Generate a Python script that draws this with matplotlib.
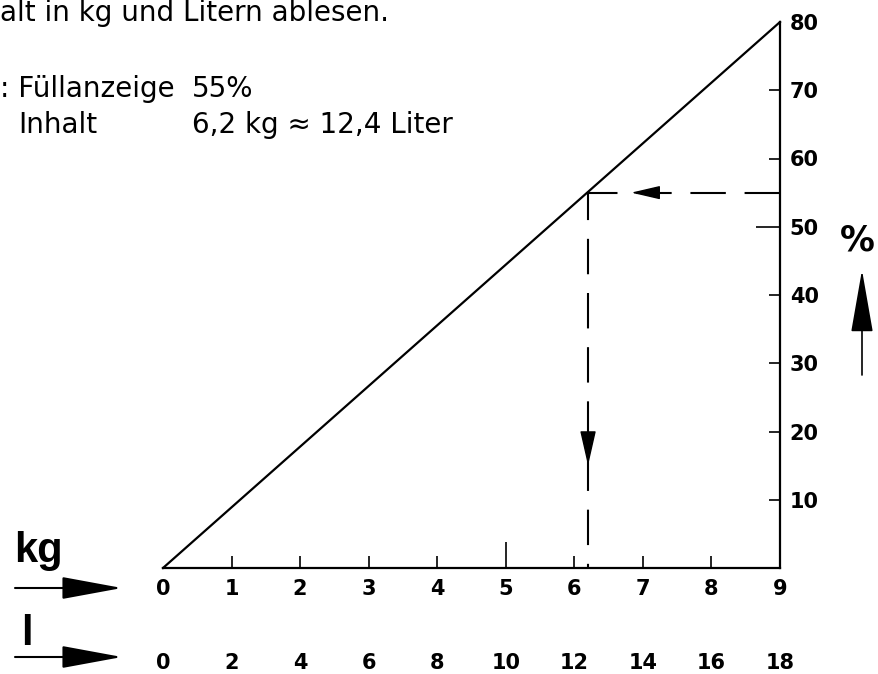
import matplotlib.pyplot as plt
from matplotlib.patches import FancyArrowPatch

# Füllstand-Diagramm: Füllanzeige (%) gegen Inhalt in kg bzw. Liter
kg_points = [0, 9]
pct_points = [0, 80]

kg_ticks = [0, 1, 2, 3, 4, 5, 6, 7, 8, 9]
liter_ticks = [0, 2, 4, 6, 8, 10, 12, 14, 16, 18]
pct_ticks = [10, 20, 30, 40, 50, 60, 70, 80]

# Ablesebeispiel
example_pct = 55
example_kg = 6.2

plt.rcParams['font.family'] = ['DejaVu Sans']

fig = plt.figure(figsize=(8.79, 6.74), dpi=100)
ax = fig.add_axes([163 / 879, 106 / 674, 617 / 879, 546 / 674])
ax.set_xlim(0, 9)
ax.set_ylim(0, 80)

# Kennlinie
ax.plot(kg_points, pct_points, color='black', lw=1.6, clip_on=False)

# Achsen
for s in ['left', 'top']:
    ax.spines[s].set_visible(False)
ax.spines['bottom'].set_linewidth(1.6)
ax.spines['right'].set_linewidth(1.6)

ax.set_xticks(kg_ticks)
ax.set_xticklabels([str(t) for t in kg_ticks], fontsize=15, fontweight='bold')
ax.tick_params(axis='x', direction='in', length=9, width=1.2, pad=8)
ax.yaxis.tick_right()
ax.set_yticks(pct_ticks)
ax.set_yticklabels([str(t) for t in pct_ticks], fontsize=15, fontweight='bold')
ax.tick_params(axis='y', direction='in', length=8, width=1.2, pad=7)

# längere Striche bei 5 kg und 50 %
xt = ax.xaxis.get_major_ticks()
xt[0].tick1line.set_visible(False)
xt[9].tick1line.set_visible(False)
xt[5].tick1line.set_markersize(19)
yt = ax.yaxis.get_major_ticks()
yt[4].tick2line.set_markersize(17)
yt[7].tick2line.set_visible(False)

# Liter-Skala
sec = ax.secondary_xaxis(-0.15, functions=(lambda x: 2 * x, lambda l: l / 2))
sec.set_xticks(liter_ticks)
sec.set_xticklabels([str(t) for t in liter_ticks], fontsize=15, fontweight='bold')
sec.tick_params(length=0, pad=2)
sec.spines['bottom'].set_visible(False)

# Ablese-Linien (gestrichelt)
dash = (0, (17, 9))
ax.plot([9, example_kg], [example_pct, example_pct], color='black', lw=1.5,
        linestyle=dash)
ax.plot([example_kg, example_kg], [example_pct, 0], color='black', lw=1.5,
        linestyle=(4, (17, 9)))
ax.annotate('', xy=(6.83, example_pct), xytext=(7.22, example_pct),
            arrowprops=dict(arrowstyle='-|>,head_length=1.8,head_width=0.42',
                            color='black', lw=1, shrinkA=0, shrinkB=0))
ax.annotate('', xy=(example_kg, 15), xytext=(example_kg, 19.8),
            arrowprops=dict(arrowstyle='-|>,head_length=2.2,head_width=0.5',
                            color='black', lw=1, shrinkA=0, shrinkB=0))

# Beschriftung oben links
def px(x, y):
    return x / 879, 1 - y / 674

fig.text(*px(0, 21), 'alt in kg und Litern ablesen.', fontsize=20,
         va='baseline', ha='left')
fig.text(*px(0, 97), ': Füllanzeige', fontsize=20, va='baseline', ha='left')
fig.text(*px(192, 97), '55%', fontsize=20, va='baseline', ha='left')
fig.text(*px(18, 133), 'Inhalt', fontsize=20, va='baseline', ha='left')
fig.text(*px(192, 133), '6,2 kg \u2248 12,4 Liter', fontsize=20,
         va='baseline', ha='left')

# Prozent-Achse
fig.text(*px(857, 240), '%', fontsize=25, fontweight='bold',
         va='center', ha='center')
fig.add_artist(FancyArrowPatch(
    px(862, 375), px(862, 270),
    transform=fig.transFigure, arrowstyle='-|>,head_length=4.0,head_width=0.7',
    mutation_scale=10, color='black', lw=1.2, shrinkA=0, shrinkB=0))

# kg / l Beschriftung links
fig.text(*px(14, 562), 'kg', fontsize=30, fontweight='bold',
         family='Liberation Sans', va='baseline', ha='left')
fig.text(*px(21, 645), 'l', fontsize=30, fontweight='bold',
         family='Liberation Sans', va='baseline', ha='left')
for y in [588, 657]:
    fig.add_artist(FancyArrowPatch(
        px(15, y), px(122, y),
        transform=fig.transFigure, arrowstyle='-|>,head_length=3.8,head_width=0.7',
        mutation_scale=10, color='black', lw=1.5, shrinkA=0, shrinkB=0))

fig.savefig('out.png', dpi=100)
